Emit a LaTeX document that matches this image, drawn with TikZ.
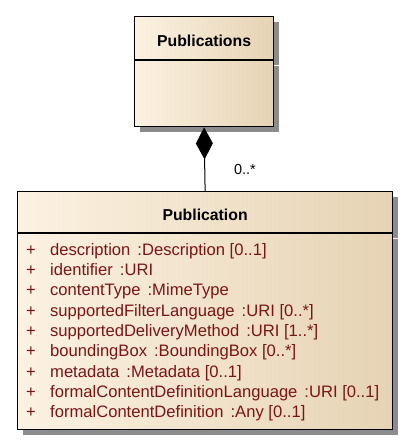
\documentclass[tikz,border=0pt]{standalone}
\usepackage{fontspec}
\setmainfont{Liberation Sans}
\usetikzlibrary{arrows.meta, shadows}
\definecolor{classL}{RGB}{252,242,226}
\definecolor{classR}{RGB}{230,211,180}
\definecolor{attrRed}{RGB}{120,22,22}
\tikzset{
  classbox/.style={draw=black, line width=1.2pt, rectangle, inner sep=0pt,
    left color=classL, right color=classR,
    drop shadow={shadow xshift=5pt, shadow yshift=-5pt, fill=black!45, opacity=1}},
  classname/.style={font=\fontsize{15.8}{17}\selectfont\bfseries},
  attrlist/.style={anchor=north west, inner sep=0pt, align=left, text=attrRed,
    font=\fontsize{16.6}{20.3}\selectfont}
}
\newcommand{\attr}[2]{\makebox[24pt][l]{+}#1\hspace{7pt}#2}
\newcommand{\cname}[1]{\raisebox{-3pt}[\height][\depth]{#1}}
\begin{document}
\begin{tikzpicture}[x=1pt, y=-1pt]
    \useasboundingbox (0,0) rectangle (409,447);
    % Classe Publications
    \node[classbox, classname, anchor=north west, minimum width=139pt, minimum height=43pt] (pubsTitle) at (134,16) {\cname{Publications}};
    \node[classbox, anchor=north, minimum width=139pt, minimum height=66pt] (pubsBody) at (pubsTitle.south) {};

    % Classe Publication
    \node[classbox, classname, anchor=north west, minimum width=375pt, minimum height=41pt] (pubTitle) at (17,191) {\cname{Publication}};
    \node[classbox, anchor=north, minimum width=375pt, minimum height=196pt] (pubBody) at (pubTitle.south) {};
    \node[attrlist] (pubAttrs) at (26,243) {%
      \attr{description}{:Description [0..1]}\\
      \attr{identifier}{:URI}\\
      \attr{contentType}{:MimeType}\\
      \attr{supportedFilterLanguage}{:URI [0..*]}\\
      \attr{supportedDeliveryMethod}{:URI [1..*]}\\
      \attr{boundingBox}{:BoundingBox [0..*]}\\
      \attr{metadata}{:Metadata [0..1]}\\
      \attr{formalContentDefinitionLanguage}{:URI [0..1]}\\
      \attr{formalContentDefinition}{:Any [0..1]}};

    % Composicao
    \draw[line width=1pt, {Diamond[length=32pt, width=17pt]}-] (pubsBody.south) -- (pubTitle.north);
    \node[font=\fontsize{14.5}{16}\selectfont] (mult) at (245,170) {0..*};
\end{tikzpicture}
\end{document}
